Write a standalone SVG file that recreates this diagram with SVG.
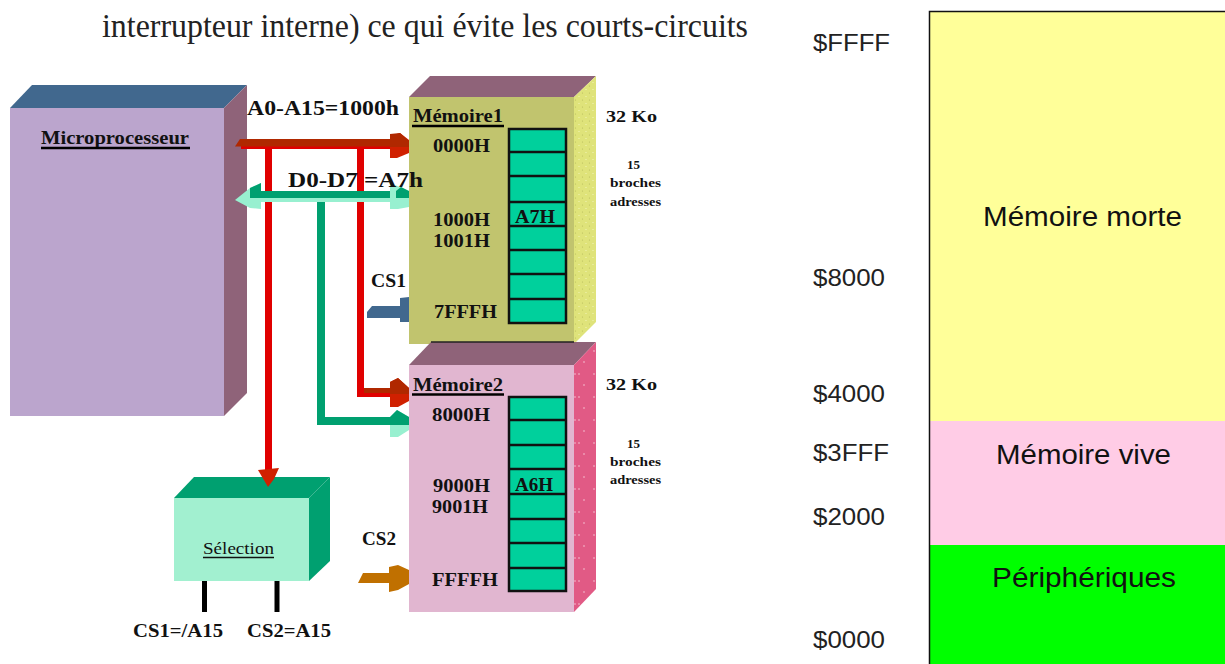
<svg xmlns="http://www.w3.org/2000/svg" width="1225" height="664" viewBox="0 0 1225 664">
<defs>
<pattern id="dotsY" width="7" height="7" patternUnits="userSpaceOnUse"><rect width="7" height="7" fill="#dfe37a"/><circle cx="1.500" cy="2" r=".6" fill="#b9bd5c"/><circle cx="5" cy="5.500" r=".6" fill="#f5f7c0"/></pattern>
<pattern id="dotsP" width="19" height="23" patternUnits="userSpaceOnUse"><rect width="19" height="23" fill="#e15a85"/><circle cx="5" cy="6" r=".8" fill="#f7c4d6"/><circle cx="9" cy="6" r=".8" fill="#f7c4d6"/><circle cx="14" cy="17" r=".8" fill="#f7c4d6"/></pattern>
</defs>
<style>
.s{font-family:"Liberation Serif",serif;font-weight:bold;fill:#111}
.l{font-size:18px}
.m{font-size:13px}
.a{font-family:"Liberation Sans",sans-serif;fill:#111}
.r{font-size:24px;fill:#222}
.c{font-size:27px}
.cell{fill:#00d09c;stroke:#111;stroke-width:2.500}
</style>
<rect width="1225" height="664" fill="#fff"/>
<text x="425" y="37" font-family="Liberation Serif" font-size="34" fill="#222" text-anchor="middle" textLength="646" lengthAdjust="spacingAndGlyphs">interrupteur interne) ce qui évite les courts-circuits</text>
<g id="microprocesseur">
<polygon points="10,108 32,85 247,85 224,108" fill="#41688e"/>
<polygon points="224,108 247,85 247,393 224,416" fill="#8f6379"/>
<rect x="10" y="108" width="214" height="308" fill="#bba5cd"/>
<text class="s" x="41" y="144" font-size="19" textLength="148" lengthAdjust="spacingAndGlyphs">Microprocesseur</text>
<path d="M41 148H190" stroke="#000" stroke-width="2.500"/>
</g>
<g id="memoire1">
<polygon points="409,97 430,76 596,76 574,97" fill="#8f6379"/>
<polygon points="574,97 596,76 596,322 574,344" fill="url(#dotsY)"/>
<rect x="409" y="97" width="165" height="247" fill="#c1c46e"/>
<text class="s l" x="413" y="122" textLength="90" lengthAdjust="spacingAndGlyphs">Mémoire1</text>
<path d="M412 126H504" stroke="#000" stroke-width="2.500"/>
<text class="s l" x="433" y="152" textLength="57" lengthAdjust="spacingAndGlyphs">0000H</text><text class="s l" x="433" y="226" textLength="57" lengthAdjust="spacingAndGlyphs">1000H</text><text class="s l" x="433" y="247" textLength="57" lengthAdjust="spacingAndGlyphs">1001H</text><text class="s l" x="434" y="318" textLength="63" lengthAdjust="spacingAndGlyphs">7FFFH</text>
<rect class="cell" x="509" y="129" width="57" height="194"/>
<path d="M509 152H566M509 176H566M509 202H566M509 226H566M509 250H566M509 274H566M509 299H566" stroke="#111" stroke-width="2.500"/>
<text class="s l" x="515" y="223" textLength="40" lengthAdjust="spacingAndGlyphs">A7H</text>
</g>
<g id="memoire2">
<polygon points="409,365 431,342 596,342 574,365" fill="#8f6379"/>
<path d="M431 342H574" stroke="#222" stroke-width="1.500"/>
<polygon points="574,365 596,342 596,589 574,612" fill="url(#dotsP)"/>
<rect x="409" y="365" width="165" height="247" fill="#e1b6d0"/>
<text class="s l" x="413" y="391" textLength="90" lengthAdjust="spacingAndGlyphs">Mémoire2</text>
<path d="M412 394.500H504" stroke="#000" stroke-width="2.500"/>
<text class="s l" x="432" y="421" textLength="58" lengthAdjust="spacingAndGlyphs">8000H</text><text class="s l" x="433" y="492" textLength="57" lengthAdjust="spacingAndGlyphs">9000H</text><text class="s l" x="432" y="513" textLength="56" lengthAdjust="spacingAndGlyphs">9001H</text><text class="s l" x="432" y="586" textLength="66" lengthAdjust="spacingAndGlyphs">FFFFH</text>
<rect class="cell" x="509" y="397" width="57" height="194"/>
<path d="M509 420H566M509 445H566M509 469H566M509 494H566M509 519H566M509 543H566M509 568H566" stroke="#111" stroke-width="2.500"/>
<text class="s l" x="515" y="491" textLength="38" lengthAdjust="spacingAndGlyphs">A6H</text>
</g>
<g id="selection">
<polygon points="174,498 194,477 330,477 309,498" fill="#00a070"/>
<polygon points="309,498 330,477 330,561 309,581" fill="#00a070"/>
<rect x="174" y="498" width="135" height="83" fill="#a2f0d0"/>
<text x="203" y="554" font-family="Liberation Serif" font-size="17" fill="#111" textLength="71" lengthAdjust="spacingAndGlyphs">Sélection</text>
<path d="M203 557.500H274" stroke="#111" stroke-width="1.500"/>
</g>
<g id="connectors" fill="none">
<path d="M268.500 149V475" stroke="#e00000" stroke-width="7"/>
<path d="M360.500 149V393.500H395" stroke="#e00000" stroke-width="7"/>
<path d="M321 202V421H395" stroke="#00a070" stroke-width="8"/>
<path d="M364 390.500H395" stroke="#b02800" stroke-width="5"/>
<path d="M241 147.500H395" stroke="#e00000" stroke-width="3"/>
<polygon points="235,146.500 240,139 395,139 395,146.500" fill="#b02800"/>
<polygon points="390,136 400,133 409,140 409,153 397,158 390,158" fill="#d02000"/>
<polygon points="390,134 400,133 409,141 409,147 390,147" fill="#b02800"/>
<path d="M250 200H395" stroke="#98f0d0" stroke-width="4"/>
<path d="M250 194.500H395" stroke="#00a070" stroke-width="7"/>
<polygon points="235,200 250,188 261,183 261,209 250,208" fill="#98f0d0"/>
<polygon points="250,188 261,183 261,198 250,198" fill="#00a070"/>
<polygon points="390,183 400,187 409,191 409,207 398,209 390,209" fill="#98f0d0"/>
<polygon points="396,191 401,187 409,191 409,198 396,198" fill="#00a070"/>
<polygon points="390,382 398,378 409,388 409,401 398,407 390,407" fill="#d02000"/>
<polygon points="390,382 398,378 409,388 409,394 390,394" fill="#b02800"/>
<polygon points="390,417 397,410 409,417 409,430 398,437 390,437" fill="#98f0d0"/>
<polygon points="390,417 397,410 409,417 409,425 390,425" fill="#00a070"/>
<polygon points="367,312 372,306 400,306 400,298 409,297 409,322 400,322 400,318 367,318" fill="#41688e"/>
<polygon points="358,583 363,573 389,573 389,567 398,565 409,570 409,584 398,590 389,592 389,583" fill="#c07000"/>
<polygon points="258,470 279,468 274,479 268,487" fill="#d02000"/>
<path d="M204.500 581V612M277 581V612" stroke="#000" stroke-width="5"/>
</g>
<text class="s" x="247" y="115" font-size="22" textLength="152" lengthAdjust="spacingAndGlyphs">A0-A15=1000h</text>
<text class="s" x="288" y="187" font-size="22" textLength="135" lengthAdjust="spacingAndGlyphs">D0-D7 =A7h</text>
<text class="s l" x="371" y="287" textLength="35" lengthAdjust="spacingAndGlyphs">CS1</text>
<text class="s l" x="362" y="545" textLength="34" lengthAdjust="spacingAndGlyphs">CS2</text>
<text class="s l" x="133" y="637" textLength="90" lengthAdjust="spacingAndGlyphs">CS1=/A15</text>
<text class="s l" x="247" y="637" textLength="84" lengthAdjust="spacingAndGlyphs">CS2=A15</text>
<text class="s" x="606" y="122" font-size="17" textLength="51" lengthAdjust="spacingAndGlyphs">32 Ko</text>
<text class="s" x="606" y="390" font-size="17" textLength="51" lengthAdjust="spacingAndGlyphs">32 Ko</text>
<g class="s m">
<text x="627" y="169">15</text><text x="610" y="187" textLength="51" lengthAdjust="spacingAndGlyphs">broches</text><text x="610" y="206" textLength="51" lengthAdjust="spacingAndGlyphs">adresses</text>
<text x="627" y="448">15</text><text x="610" y="466" textLength="51" lengthAdjust="spacingAndGlyphs">broches</text><text x="610" y="484" textLength="51" lengthAdjust="spacingAndGlyphs">adresses</text>
</g>
<g id="memory-map">
<rect x="929.500" y="11.500" width="296" height="410" fill="#ffff99"/>
<rect x="929.500" y="421" width="296" height="124" fill="#ffcce6"/>
<rect x="929.500" y="545" width="296" height="119" fill="#00ff00"/>
<path d="M1225 11.500H929.500V664" fill="none" stroke="#111" stroke-width="1.500"/>
<text class="a c" x="983" y="226" textLength="199" lengthAdjust="spacingAndGlyphs">Mémoire morte</text>
<text class="a c" x="996" y="464" textLength="175" lengthAdjust="spacingAndGlyphs">Mémoire vive</text>
<text class="a c" x="992" y="587" textLength="184" lengthAdjust="spacingAndGlyphs">Périphériques</text>
</g>
<g class="a r"><text x="813" y="51" textLength="77" lengthAdjust="spacingAndGlyphs">$FFFF</text><text x="813" y="286" textLength="72" lengthAdjust="spacingAndGlyphs">$8000</text><text x="813" y="402" textLength="72" lengthAdjust="spacingAndGlyphs">$4000</text><text x="813" y="461" textLength="76" lengthAdjust="spacingAndGlyphs">$3FFF</text><text x="813" y="525" textLength="72" lengthAdjust="spacingAndGlyphs">$2000</text><text x="813" y="648" textLength="72" lengthAdjust="spacingAndGlyphs">$0000</text></g>
</svg>
